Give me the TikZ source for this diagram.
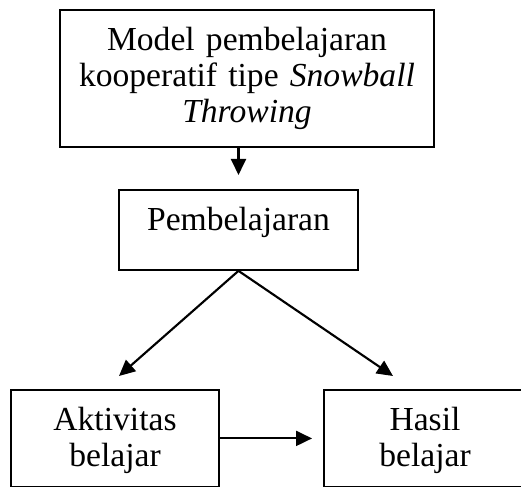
\documentclass[tikz,border=0pt]{standalone}
\usepackage{fontspec}
\setmainfont{Liberation Serif}
\usetikzlibrary{arrows.meta}
\usetikzlibrary{positioning}

\tikzset{
  kotak/.style={draw=black, line width=0.7pt, inner sep=0pt, align=center,
    font=\fontsize{12.6}{13.5}\selectfont},
  panah/.style={line width=0.8pt, -{Triangle[length=6pt, width=5.6pt]}}
}

\begin{document}
\begin{tikzpicture}[x=0.375pt, y=-0.375pt]
\useasboundingbox (0,0) rectangle (521,487);

\node[kotak, anchor=north, text width=374*0.375pt, text height=41*0.375pt, text depth=96*0.375pt] (model) at (247,9)
  {Model pembelajaran\\kooperatif tipe \textit{Snowball}\\\textit{Throwing}};
\node[kotak, anchor=north, text width=239*0.375pt, text height=41*0.375pt, text depth=39*0.375pt] (pemb) at (238.5,189)
  {Pembelajaran};
\node[kotak, anchor=north, text width=208*0.375pt, text height=41*0.375pt, text depth=56*0.375pt] (aktiv) at (115,389)
  {Aktivitas\\belajar};
\node[kotak, anchor=north, text width=202*0.375pt, text height=41*0.375pt, text depth=56*0.375pt] (hasil) at (425,389)
  {Hasil\\belajar};

\coordinate (ujungA) at (119,376);
\coordinate (ujungH) at (393,376);

\draw[panah, shorten >=14*0.375pt] (pemb.north |- model.south) -- (pemb.north);
\draw[panah] (pemb.south) -- (ujungA);
\draw[panah] (pemb.south) -- (ujungH);
\draw[panah, shorten >=11*0.375pt] (aktiv.east) -- (hasil.west);

\end{tikzpicture}
\end{document}
